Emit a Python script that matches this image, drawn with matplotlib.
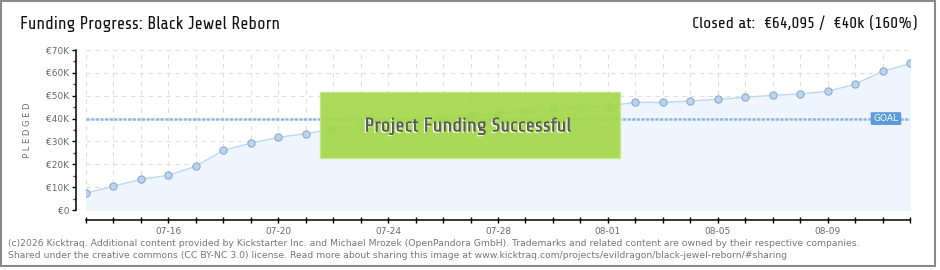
import numpy as np
import pandas as pd
import matplotlib
matplotlib.use("Agg")
import matplotlib.pyplot as plt
import matplotlib.dates as mdates
from matplotlib.patches import Rectangle, FancyBboxPatch
from matplotlib.ticker import MultipleLocator, FuncFormatter
import matplotlib.patheffects as pe

# Data (pledged, in thousands of EUR)
dates = pd.date_range("2025-07-13", "2025-08-12", freq="D")
pledged = [7.3, 10.4, 13.4, 15.2, 19.1, 26.1, 29.2, 31.8, 33.4, 35.4,
           36.8, 38.2, 39.3, 40.4, 41.7, 42.1, 43.4, 44.2, 44.5, 45.5,
           47.1, 47.1, 47.7, 48.4, 49.3, 50.2, 50.8, 51.9, 55.1, 60.7, 64.1]
goal = 40
label_days = ["07-16", "07-20", "07-24", "07-28", "08-01", "08-05", "08-09"]

title = "Funding Progress: Black Jewel Reborn"
closed = "Closed at:  €64,095 /  €40k (160%)"
footer = ["(c)2026 Kicktraq. Additional content provided by Kickstarter Inc. and Michael Mrozek (OpenPandora GmbH). "
          "Trademarks and related content are owned by their respective companies.",
          "Shared under the creative commons (CC BY-NC 3.0) license. Read more about sharing this image at "
          "www.kicktraq.com/projects/evildragon/black-jewel-reborn/#sharing"]

narrow = ["Share Tech", "Ropa Sans", "Saira Condensed", "DejaVu Sans"]

fig = plt.figure(figsize=(9.4, 2.7), dpi=100)
W, H = 940, 270

# outer frame
fig.patches.append(Rectangle((1 / W, 4 / H), 934 / W, 265 / H, transform=fig.transFigure,
                             fill=False, edgecolor="#8a8a8a", linewidth=1.5))

ax = fig.add_axes([85.7 / W, 1 - 210 / H, (910.3 - 85.7) / W, 160 / H])
x = mdates.date2num(dates)

ax.fill_between(x, pledged, 0, color="#eef5fd", zorder=1)
ax.plot(x, pledged, color="#bcd8f5", lw=1, zorder=3)
ax.plot(x, pledged, "o", ms=5.2, mfc="#b9d5f2", mec="#8ea9c8", mew=0.8, zorder=4)
ax.axhline(goal, color="#8db5e2", lw=1.8, ls=(0, (1.3, 0.55)), zorder=2)

ax.set_xlim(x[0], x[-1])
ax.set_ylim(0, 70)

# grid
ax.xaxis.set_major_locator(mdates.DayLocator())
ax.yaxis.set_major_locator(MultipleLocator(10))
ax.yaxis.set_minor_locator(MultipleLocator(5))
ax.grid(True, which="major", color="#dedede", lw=0.8, ls=(0, (4, 4)), zorder=0)
ax.set_axisbelow(True)

for s in ["top", "right"]:
    ax.spines[s].set_visible(False)
ax.spines["left"].set_position(("outward", 6.8))
ax.spines["bottom"].set_position(("outward", 7.4))
ax.spines["left"].set_bounds(0, 70)
ax.spines["left"].set_color("black")
ax.spines["bottom"].set_color("black")
ax.spines["left"].set_linewidth(1.1)
ax.spines["bottom"].set_linewidth(1.1)

ax.yaxis.set_major_formatter(FuncFormatter(lambda v, p: "€0" if v == 0 else f"€{int(v)}K"))
ax.tick_params(axis="y", which="major", length=3, width=1, color="black",
               labelsize=6.5, labelcolor="#6a6a6a", pad=2)
ax.tick_params(axis="y", which="minor", length=2.5, width=1, color="#e00000")
ax.tick_params(axis="x", which="major", direction="inout", length=5, width=1,
               labelsize=6.5, labelcolor="#6a6a6a", pad=2)
ax.xaxis.set_major_formatter(FuncFormatter(
    lambda v, p: mdates.num2date(v).strftime("%m-%d")
    if mdates.num2date(v).strftime("%m-%d") in label_days else ""))

ax.set_ylabel("P L E D G E D", fontsize=6, color="#6a6a6a", labelpad=10)

# goal badge
ax.add_patch(FancyBboxPatch((0.952, (goal - 2.8) / 70), 0.037, 5.6 / 70,
                            boxstyle="round,pad=0,rounding_size=0.003",
                            transform=ax.transAxes, facecolor="#5b9bd9",
                            edgecolor="none", zorder=6, clip_on=False))
ax.text(0.9705, goal / 70, "GOAL", transform=ax.transAxes, ha="center", va="center",
        fontsize=6.5, color="white", zorder=7)

# success banner
fig.patches.append(Rectangle((320 / W, 1 - 158 / H), 300 / W, 66 / H,
                             transform=fig.transFigure, facecolor="#a4d84a",
                             edgecolor="#c4e68a", lw=1, alpha=0.93, zorder=5))
fig.text(468 / W, 1 - 126 / H, "Project Funding Successful", ha="center", va="center",
         fontsize=14.2, color="#5a5a5a", family=narrow, zorder=6,
         path_effects=[pe.withSimplePatchShadow(offset=(-1, -1), shadow_rgbFace="white", alpha=0.9),
                       pe.Normal()])

# titles
fig.text(20 / W, 1 - 24 / H, title, ha="left", va="center", fontsize=12.5,
         family=narrow, color="#111111")
fig.text(917 / W, 1 - 24 / H, closed, ha="right", va="center", fontsize=12,
         family=narrow, color="#111111")

# footer
fig.text(8 / W, 1 - 244 / H, footer[0], ha="left", va="center", fontsize=6.65, color="#777777")
fig.text(8 / W, 1 - 256 / H, footer[1], ha="left", va="center", fontsize=6.65, color="#777777")

fig.savefig("out.png", dpi=100)
